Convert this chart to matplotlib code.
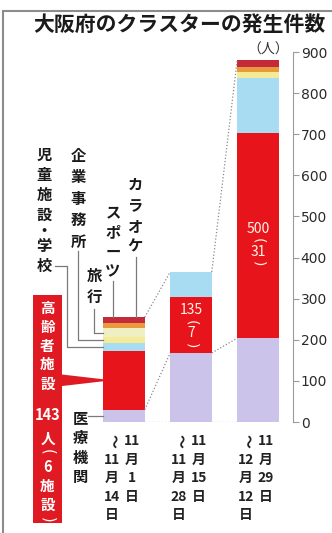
import re
import matplotlib
matplotlib.use("Agg")
import matplotlib.pyplot as plt
from matplotlib.patches import Polygon, Rectangle

# 集計期間（縦書き：右列→左列）
period_start = ["11月1日", "11月15日", "11月29日"]
period_end = ["〜11月14日", "〜11月28日", "〜12月12日"]

# 内訳（人）
medical = [30, 168, 204]      # 医療機関
elderly = [143, 135, 500]     # 高齢者施設
children = [19, 62, 133]      # 児童施設・学校
office = [14, 0, 15]          # 企業事務所
travel = [23, 0, 0]           # 旅行
sports = [13, 0, 12]          # スポーツ
karaoke = [13, 0, 17]         # カラオケ
elderly_sites = [6, 7, 31]    # 高齢者施設の施設数

y_ticks = [0, 100, 200, 300, 400, 500, 600, 700, 800, 900]

JP = ["Noto Sans CJK JP", "DejaVu Sans"]
plt.rcParams["font.family"] = JP

series = [medical, elderly, children, office, travel, sports, karaoke]
colors = ["#cbc3ea", "#e8141c", "#a8dcf2", "#f4ea98", "#eef0c4", "#e99a3c", "#c42a3a"]

fig = plt.figure(figsize=(3.32, 5.33), dpi=100)
ax = fig.add_axes([90 / 332, 111 / 533, 203 / 332, 370 / 533])
over = fig.add_axes([0, 0, 1, 1], zorder=5)
over.set_xlim(0, 332)
over.set_ylim(533, 0)
over.axis("off")

x = [0, 1, 2]
w = 0.62
bottom = [0, 0, 0]
for vals, c in zip(series, colors):
    ax.bar(x, vals, w, bottom=bottom, color=c, linewidth=0)
    bottom = [b + v for b, v in zip(bottom, vals)]
totals = bottom
med_top = medical
eld_top = [m + e for m, e in zip(medical, elderly)]

ax.set_xlim(-0.507, 2.522)
ax.set_ylim(0, 900)
for s in ["left", "top", "bottom"]:
    ax.spines[s].set_visible(False)
ax.spines["right"].set_color("#9a9a9a")
ax.spines["right"].set_linewidth(0.8)
ax.yaxis.tick_right()
ax.set_yticks(y_ticks)
ax.tick_params(axis="y", length=4, width=0.8, color="#9a9a9a", pad=1.5,
               labelsize=10, labelcolor="#2a2a2a")
ax.set_xticks([])
for lab in ax.get_yticklabels():
    lab.set_family("DejaVu Sans")
ax.set_facecolor("none")

# 点線の連結線
dot = dict(color="#8a8a8a", lw=0.9, linestyle=(0, (1, 1.6)))
for i in range(2):
    for tops in (totals, med_top):
        ax.plot([x[i] + w / 2, x[i + 1] - w / 2], [tops[i], tops[i + 1]], **dot)
    ax.plot([x[i] + w / 2, x[i + 1] - w / 2], [0, 0], **dot)


def to_px(xd, yd):
    disp = ax.transData.transform((xd, yd))
    return over.transData.inverted().transform(disp)


def tokens(s):
    return re.findall(r"\d+|.", s)


HALF = {"（": "(", "）": ")", "・": "・"}


def vtext(xp, ytop, s, pitch, **kw):
    # 縦書き：括弧と中黒は半角送り
    cur = ytop
    for t in tokens(s):
        adv = pitch * 0.55 if t in HALF else pitch
        yc = cur + adv / 2
        if t in ("（", "）"):
            over.text(xp, yc, HALF[t], ha="center", va="center", rotation=-90,
                      **{**kw, "family": "DejaVu Sans", "fontweight": "normal"})
        else:
            rot = -90 if t == "〜" else 0
            over.text(xp, yc, t, ha="center", va="center", rotation=rot, **kw)
        cur += adv


# タイトル
over.text(179, 24, "大阪府のクラスターの発生件数", ha="center", va="center",
          fontsize=15, fontweight="bold", color="#1a1a1a")
over.text(268, 50, "（人）", ha="center", va="center", fontsize=10, color="#333333")

# 外枠
over.plot([3, 332], [11, 11], color="#8c8c8c", lw=1.5)
over.plot([3, 3], [11, 533], color="#8c8c8c", lw=1.5)

# 期間ラベル
for i in range(3):
    cx = to_px(x[i], 0)[0]
    vtext(cx + 8, 432, period_start[i], 18.5, fontsize=10, fontweight="bold", color="#222222")
    vtext(cx - 12, 432, period_end[i], 18.5, fontsize=10, fontweight="bold", color="#222222")

# 内訳ラベルと引き出し線
lab = dict(fontsize=11, fontweight="bold", color="#1a1a1a")
vtext(44, 145, "児童施設・学校", 20, **lab)
vtext(78, 145, "企業事務所", 21.5, **lab)
vtext(135, 175, "カラオケ", 20.5, **lab)
vtext(113, 203, "スポーツ", 19.5, **lab)
vtext(94, 265, "旅行", 21.5, **lab)
vtext(80, 409, "医療機関", 19.5, **lab)

bar_left = to_px(x[0] - w / 2, 0)[0]
top_px = to_px(0, totals[0])[1]
line = dict(color="#7a7a7a", lw=0.9)
ym = to_px(0, medical[0] + elderly[0] + children[0] / 2)[1]
over.plot([55, 67, 67, bar_left], [266, 266, ym, ym], **line)
ym = to_px(0, eld_top[0] + children[0] + office[0] / 2)[1]
over.plot([78, 78, bar_left], [251, ym, ym], **line)
ym = to_px(0, eld_top[0] + children[0] + office[0] + travel[0] / 2)[1]
over.plot([94, 94, bar_left], [309, ym, ym], **line)
over.plot([113, 113], [281, top_px], **line)
over.plot([136, 136], [257, top_px], **line)
ym = to_px(0, medical[0] / 2)[1]
over.plot([88, bar_left], [ym, ym], **line)

# 高齢者施設の囲み
red = "#e01a22"
over.add_patch(Rectangle((33, 295), 29, 228, color=red, lw=0))
ym = to_px(0, medical[0] + elderly[0] / 2)[1]
over.add_patch(Polygon([(60, ym - 6), (60, ym + 6), (bar_left, ym + 1), (bar_left, ym - 1)],
                       closed=True, color=red, lw=0))
box = dict(fontsize=10.5, fontweight="bold", color="white")
vtext(47.5, 298, "高齢者施設", 19, **box)
vtext(47.5, 403, f"{elderly[0]}人", 24, **box)
vtext(47.5, 447, f"（{elderly_sites[0]}施設）", 19, **box)

# 棒内の数値
for i in (1, 2):
    cx = to_px(x[i], 0)[0]
    ytop = to_px(0, eld_top[i])[1]
    t = dict(fontsize=10, color="#fff6e8")
    y0 = ytop + 13 if i == 1 else to_px(0, 470)[1]
    over.text(cx, y0, str(elderly[i]), ha="center", va="center", **t)
    over.text(cx, y0 + 12, "(", ha="center", va="center", rotation=-90,
              family="DejaVu Sans", **t)
    over.text(cx, y0 + 23, str(elderly_sites[i]), ha="center", va="center", **t)
    over.text(cx, y0 + 35, ")", ha="center", va="center", rotation=-90,
              family="DejaVu Sans", **t)

fig.savefig("out.png", dpi=100, facecolor="white")
